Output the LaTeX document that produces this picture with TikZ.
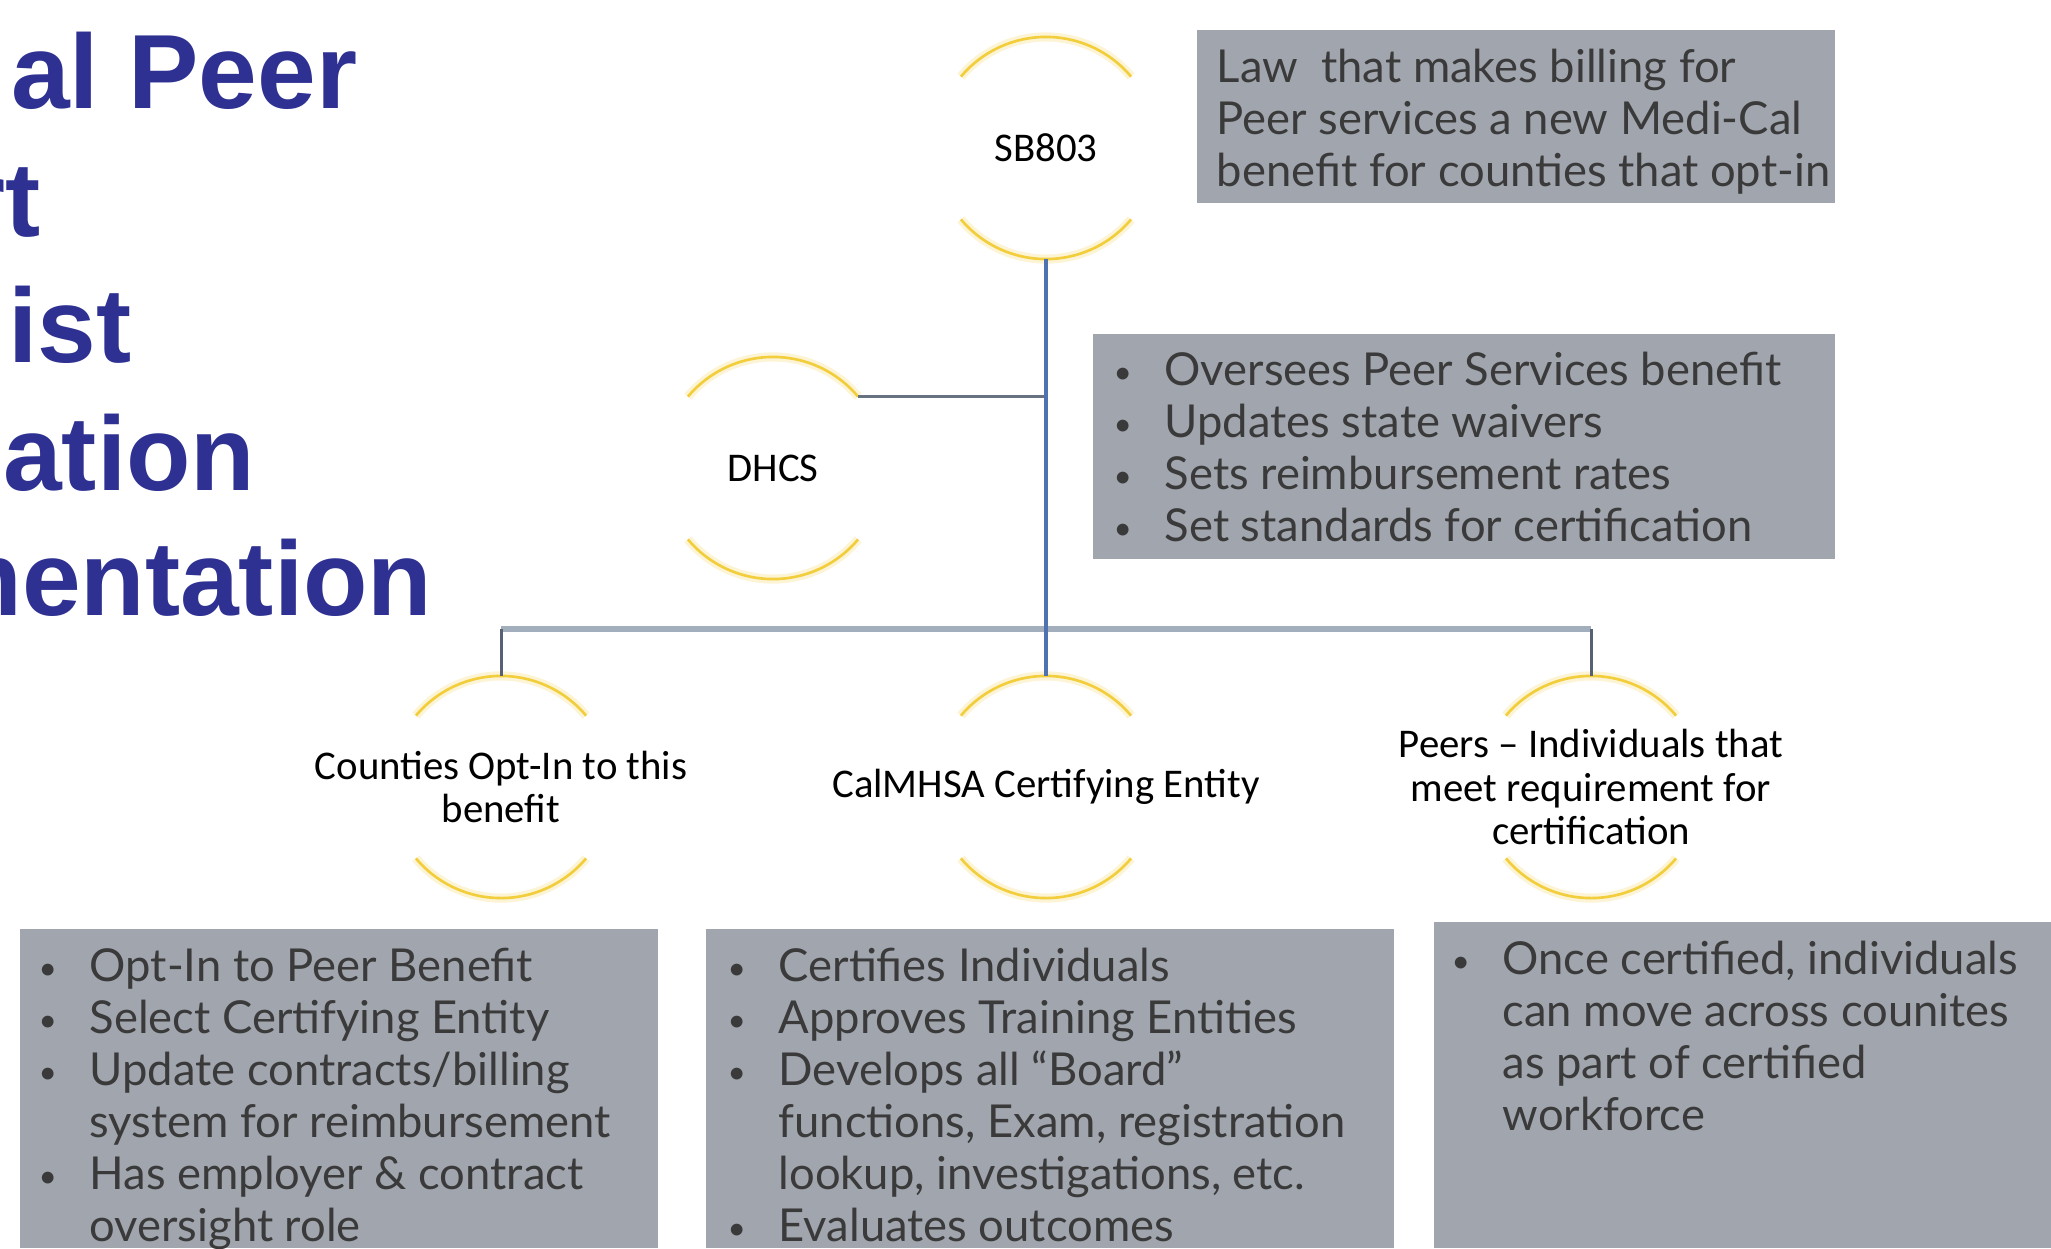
\documentclass[tikz,border=0pt]{standalone}
\usepackage{fontspec}
\newfontfamily\titlefont{Liberation Sans}
\newfontfamily\boxfont{Lato}
\newfontfamily\labfont{Carlito}
\definecolor{titleblue}{HTML}{2E3192}
\definecolor{boxgray}{HTML}{A0A5AE}
\definecolor{boxtext}{HTML}{3A3A3A}
\definecolor{ringyellow}{HTML}{F2CE3C}
\definecolor{mainblue}{HTML}{4F72B0}
\definecolor{barblue}{HTML}{A3AEBD}
\definecolor{slate}{HTML}{566273}
\newcommand{\bitem}[1]{\makebox[14.5pt][l]{\raisebox{0.6pt}{\fontsize{9}{9}\selectfont •}}#1}
\newcommand{\bcont}[1]{\hspace*{14.5pt}#1}
\newcommand{\firstst}{\rule{0pt}{11pt}}
\newcommand{\ringarcs}[1]{%
  \draw[glowline] (#1.40) arc[start angle=40,end angle=140,radius=1.11cm];
  \draw[glowline] (#1.220) arc[start angle=220,end angle=320,radius=1.11cm];
  \draw[arcline] (#1.40) arc[start angle=40,end angle=140,radius=1.11cm];
  \draw[arcline] (#1.220) arc[start angle=220,end angle=320,radius=1.11cm];
}
\begin{document}
\begin{tikzpicture}[x=0.01cm,y=-0.01cm,
  ring/.style={circle,minimum size=2.22cm,inner sep=0pt,outer sep=0pt},
  arcline/.style={ringyellow,line width=0.75pt},
  glowline/.style={ringyellow!22,line width=2.6pt},
  lab/.style={font=\labfont\fontsize{11.6}{12.3}\selectfont,align=center,text=black,inner sep=0pt},
  infobox/.style={fill=boxgray,anchor=north west,inner sep=0pt,outer sep=0pt,draw=none},
  infotext/.style={font=\boxfont\fontsize{12.9}{14.8}\selectfont,align=left,text=boxtext,anchor=north west,inner sep=0pt},
  titletext/.style={font=\titlefont\bfseries\fontsize{30}{32}\selectfont,text=titleblue,anchor=base east,inner sep=0pt},
  mainline/.style={mainblue,line width=1.1pt},
  barline/.style={barblue,line width=1.6pt},
  childline/.style={slate,line width=0.85pt},
  dhline/.style={slate!90!white,line width=0.85pt}]
\useasboundingbox (0,0) rectangle (2051,1248);
\clip (0,0) rectangle (2051,1248);
\fill[white] (0,0) rectangle (2051,1248);

% title (clipped at the left edge, as in the reference)
\node[titletext] (t1) at (358,108) {al Peer};
\node[titletext] (t2) at (41,236) {rt};
\node[titletext] (t3) at (132,362) {ist};
\node[titletext] (t4) at (256,490) {ation};
\node[titletext] (t5) at (433,615) {mentation};

% information boxes
\node[infobox,minimum width=6.38cm,minimum height=1.73cm] (sbbox) at (1197,30) {};
\node[infobox,minimum width=7.42cm,minimum height=2.25cm] (dhbox) at (1093,334) {};
\node[infobox,minimum width=6.38cm,minimum height=3.19cm] (ctybox) at (20,929) {};
\node[infobox,minimum width=6.88cm,minimum height=3.19cm] (calbox) at (706,929) {};
\node[infobox,minimum width=6.17cm,minimum height=3.26cm] (peerbox) at (1434,922) {};

\node[infotext] (sbtxt) at (1216,43) {\firstst Law\ \ that makes billing for\\Peer services a new Medi-Cal\\benefit for counties that opt-in};
\node[infotext] (dhtxt) at (1113,346) {\firstst\bitem{Oversees Peer Services benefit}\\\bitem{Updates state waivers}\\\bitem{Sets reimbursement rates}\\\bitem{Set standards for certification}};
\node[infotext] (ctytxt) at (38,942) {\firstst\bitem{Opt-In to Peer Benefit}\\\bitem{Select Certifying Entity}\\\bitem{Update contracts/billing}\\\bcont{system for reimbursement}\\\bitem{Has employer \& contract}\\\bcont{oversight role}};
\node[infotext] (caltxt) at (727,942) {\firstst\bitem{Certifies Individuals}\\\bitem{Approves Training Entities}\\\bitem{Develops all “Board”}\\\bcont{functions, Exam, registration}\\\bcont{lookup, investigations, etc.}\\\bitem{Evaluates outcomes}};
\node[infotext] (peertxt) at (1451,935) {\firstst\bitem{Once certified, individuals}\\\bcont{can move across counites}\\\bcont{as part of certified}\\\bcont{workforce}};

% rings
\node[ring] (sb) at (1046,148) {};
\node[ring] (dh) at (773,468) {};
\node[ring] (cty) at (501,787) {};
\node[ring] (cal) at (1046,787) {};
\node[ring] (peer) at (1591,787) {};
\ringarcs{sb}
\ringarcs{dh}
\ringarcs{cty}
\ringarcs{cal}
\ringarcs{peer}

\node[lab] (sbt) at (sb) {SB803};
\node[lab] (dht) at (dh) {DHCS};
\node[lab] (ctyt) at (cty) {Counties Opt-In to this\\benefit};
\node[lab] (calt) at (cal) {CalMHSA Certifying Entity};
\node[lab] (peert) at (peer) {Peers – Individuals that\\meet requirement for\\certification};

% connectors
\coordinate (bary) at (1046,629);
\draw[barline] (cty.north |- bary) -- (peer.north |- bary);
\draw[childline] (cty.north |- bary) -- (cty.north);
\draw[childline] (peer.north |- bary) -- (peer.north);
\draw[dhline] (dh.40) -- (dh.40 -| sb.south);
\draw[mainline] (sb.south) -- (cal.north);
\end{tikzpicture}
\end{document}
